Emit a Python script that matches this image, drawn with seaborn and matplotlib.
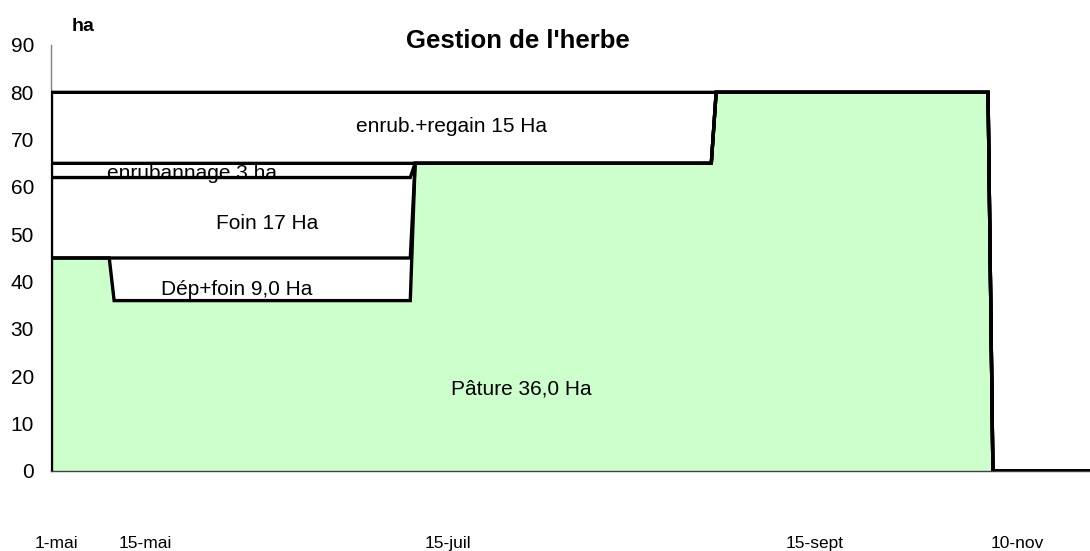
import numpy as np
import pandas as pd
import seaborn as sns
import matplotlib.pyplot as plt

# days counted from 1 May
days = [0, 12, 13, 74, 75, 136, 137, 193, 194, 214]

# surface per use (ha), stacked bottom to top
paturage = [45, 45, 36, 36, 65, 65, 80, 80, 0, 0]
dep_foin = [0, 0, 9, 9, 0, 0, 0, 0, 0, 0]
foin = [17, 17, 17, 17, 0, 0, 0, 0, 0, 0]
enrubannage = [3, 3, 3, 3, 0, 0, 0, 0, 0, 0]
enrub_regain = [15, 15, 15, 15, 15, 15, 0, 0, 0, 0]

series_names = ["Pâture", "Dép+foin", "Foin", "enrubannage", "enrub.+regain"]

date_ticks = [1.2, 19.5, 81.8, 157.2, 199.0]
date_labels = ["1-mai", "15-mai", "15-juil", "15-sept", "10-nov"]

# zone labels: (text, x day, y ha)
zone_labels = [
    ("enrub.+regain 15 Ha", 82.4, 71.6),
    ("enrubannage 3 ha", 29.0, 61.7),
    ("Foin 17 Ha", 44.6, 51.1),
    ("Dép+foin 9,0 Ha", 38.2, 37.2),
    ("Pâture 36,0 Ha", 96.8, 16.1),
]

sns.set_style("white")
plt.rcParams["font.family"] = ["Liberation Sans", "DejaVu Sans"]
plt.rcParams["text.color"] = "black"
plt.rcParams["xtick.color"] = "black"
plt.rcParams["ytick.color"] = "black"

# cumulative tops for the stacked areas
stack = np.cumsum(np.array([paturage, dep_foin, foin, enrubannage, enrub_regain]), axis=0)
df = pd.concat(
    [pd.DataFrame({"day": days, "ha": stack[i], "usage": name}) for i, name in enumerate(series_names)],
    ignore_index=True,
)

fig = plt.figure(figsize=(10.9, 5.51), dpi=100)
ax = fig.add_axes([51 / 1090, 80 / 551, 1039 / 1090, 426 / 551])

ax.fill_between(days, 0, stack[0], color="#CCFFCC", lw=0, zorder=1)

for t, x, y in zone_labels:
    ax.text(x, y, t, ha="center", va="baseline", fontsize=15, color="black", zorder=2)

sns.lineplot(data=df, x="day", y="ha", hue="usage", palette=["black"] * 5,
             estimator=None, sort=False, lw=2.4, legend=False, ax=ax, zorder=3)
for line in ax.lines:
    line.set_solid_joinstyle("miter")
# left border of the areas
ax.plot([days[0], days[0]], [0, stack[-1][0]], color="black", lw=2.4, zorder=3)

ax.set_xlim(0, 214)
ax.set_ylim(0, 90)
ax.set_yticks(range(0, 91, 10))
ax.set_xticks([])
# date labels sit well below the axis, on a common baseline
for d, lab in zip(date_ticks, date_labels):
    ax.text(d, -0.18, lab, transform=ax.get_xaxis_transform(), ha="center",
            va="baseline", fontsize=12.5, clip_on=False)
ax.tick_params(axis="y", direction="inout", length=8.6, width=1, color="#404040",
               labelsize=15, pad=8)
ax.set_xlabel("")
ax.set_ylabel("")
for s in ["top", "right"]:
    ax.spines[s].set_visible(False)
ax.spines["left"].set_color("#808080")
ax.spines["bottom"].set_color("#404040")
for s in ["left", "bottom"]:
    ax.spines[s].set_linewidth(1)

fig.text(518 / 1090, 1 - 48 / 551, "Gestion de l'herbe", ha="center", va="baseline",
         fontsize=18.5, fontweight="bold")
fig.text(72 / 1090, 1 - 31 / 551, "ha", ha="left", va="baseline", fontsize=14, fontweight="bold")

fig.savefig("out.png", dpi=100)
